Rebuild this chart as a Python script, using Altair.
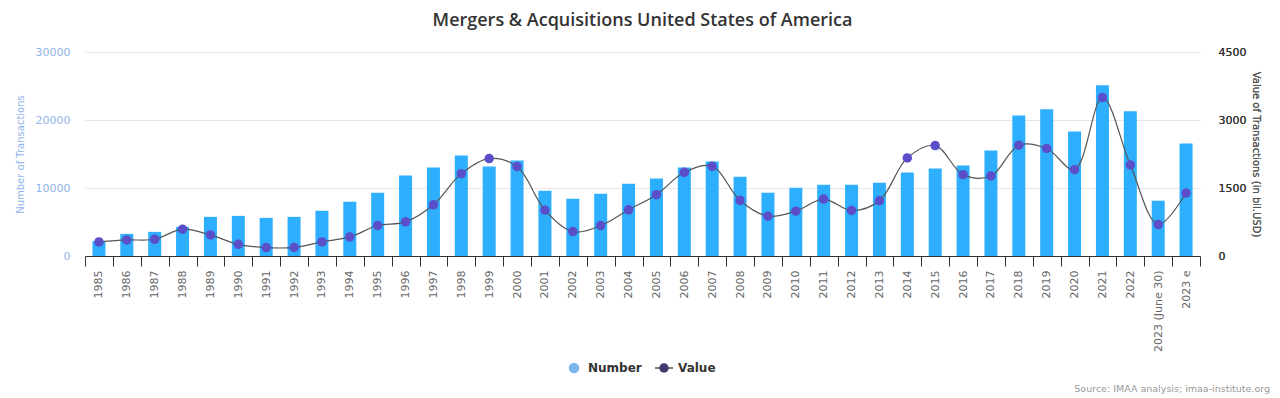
import altair as alt
import pandas as pd

categories = [str(y) for y in range(1985, 2023)] + ["2023 (June 30)", "2023 e"]
number = [2200, 3250, 3550, 4280, 5760, 5900, 5610, 5760, 6650, 7980,
          9300, 11820, 13000, 14770, 13150, 14030, 9600, 8420, 9160, 10640,
          11380, 13000, 13890, 11670, 9310, 10050, 10490, 10490, 10790, 12270,
          12860, 13300, 15520, 20680, 21570, 18300, 25100, 21270, 8130, 16540]
value = [310, 354, 369, 591, 465, 258, 185, 190, 310, 421,
         672, 753, 1130, 1817, 2149, 1972, 1012, 539, 672, 1019,
         1352, 1846, 1979, 1226, 879, 990, 1256, 1004, 1219, 2164,
         2437, 1795, 1766, 2444, 2371, 1905, 3494, 2009, 694, 1389]

df = pd.DataFrame({"Year": categories, "Number": number, "Value": value})

FONT = "DejaVu Sans"

x_enc = alt.X("Year:N", sort=categories, title=None,
              scale=alt.Scale(paddingInner=0, paddingOuter=0),
              axis=alt.Axis(labelAngle=-90, tickBand="extent", labelColor="#666666",
                            labelFont=FONT, labelFontSize=11, domainColor="#333333",
                            tickColor="#333333", tickSize=10, labelPadding=4, grid=False))

bars = alt.Chart(df).mark_bar(size=13, color="#2daffd").encode(
    x=x_enc,
    y=alt.Y("Number:Q", scale=alt.Scale(domain=[0, 30000], nice=False),
            axis=alt.Axis(orient="left", values=[0, 10000, 20000, 30000], format="d",
                          title="Number of Transactions", titleColor="#8fb4ea",
                          titleFont=FONT, titleFontSize=10, titleFontWeight="normal",
                          labelColor="#8fb4ea", labelFont=FONT, labelFontSize=11,
                          labelPadding=15, titlePadding=10, ticks=False, domain=False,
                          grid=True, gridColor="#e6e6e6")),
)

vy = alt.Y("Value:Q", scale=alt.Scale(domain=[0, 4500], nice=False),
           axis=alt.Axis(orient="right", values=[0, 1500, 3000, 4500], format="d",
                         title="Value of Transactions (in bil.USD)", titleColor="#555555",
                         titleFont=FONT, titleFontSize=10, titleFontWeight="normal",
                         labelColor="#333333", labelFont=FONT, labelFontSize=11,
                         labelPadding=18, titlePadding=5, ticks=False, domain=False,
                         grid=False))

line = alt.Chart(df).mark_line(color="#555555", strokeWidth=1.2,
                               interpolate="catmull-rom").encode(x=x_enc, y=vy)
pts = alt.Chart(df).mark_circle(size=90, color="#5a4fc9", opacity=1).encode(x=x_enc, y=vy)

one = pd.DataFrame({"a": [0]})
leg_num_dot = alt.Chart(one).mark_circle(size=110, color="#7cb5ec", opacity=1).encode(
    x=alt.value(489), y=alt.value(316))
leg_num_txt = alt.Chart(one).mark_text(text="Number", align="left", baseline="middle",
                                       font=FONT, fontSize=12, fontWeight="bold",
                                       color="#333333").encode(x=alt.value(503), y=alt.value(316))
leg_val_line = alt.Chart(one).mark_rule(color="#555555", strokeWidth=1.5).encode(
    x=alt.value(570), x2=alt.value(588), y=alt.value(316))
leg_val_dot = alt.Chart(one).mark_circle(size=90, color="#3c3a6e", opacity=1).encode(
    x=alt.value(579), y=alt.value(316))
leg_val_txt = alt.Chart(one).mark_text(text="Value", align="left", baseline="middle",
                                       font=FONT, fontSize=12, fontWeight="bold",
                                       color="#333333").encode(x=alt.value(593), y=alt.value(316))
source = alt.Chart(one).mark_text(text="Source: IMAA analysis; imaa-institute.org",
                                  align="right", baseline="middle", font=FONT, fontSize=9.5,
                                  color="#999999").encode(x=alt.value(1185), y=alt.value(337))

chart = alt.layer(
    bars, line, pts, leg_num_dot, leg_num_txt, leg_val_line, leg_val_dot, leg_val_txt, source
).resolve_scale(y="independent").properties(
    width=1115, height=204,
    padding={"left": 77, "top": 44, "right": 72, "bottom": 150},
    autosize=alt.AutoSizeParams(type="none"),
    title=alt.TitleParams("Mergers & Acquisitions United States of America",
                          font="Open Sans", fontSize=18, fontWeight=600,
                          color="#333333", anchor="middle", offset=16),
).configure_view(stroke=None)

chart.save("out.html", embed_options={"renderer": "svg", "actions": False})
